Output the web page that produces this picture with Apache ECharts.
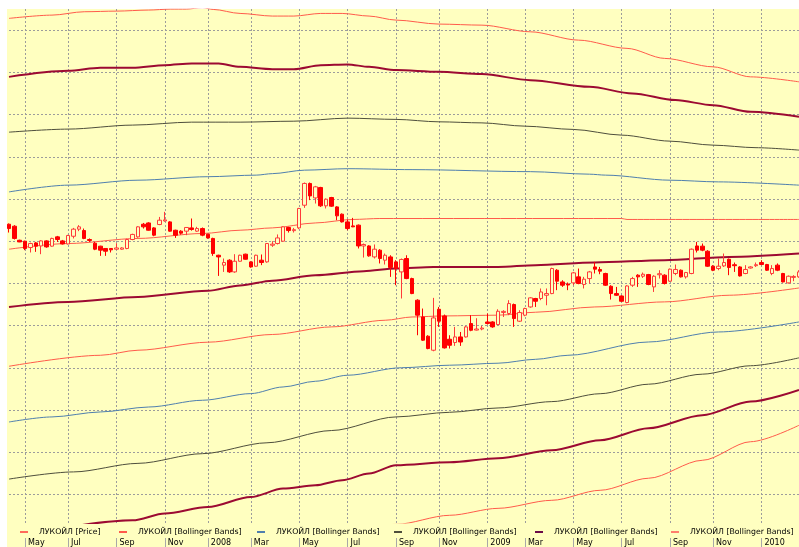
<!DOCTYPE html>
<html>
<head>
<meta charset="utf-8">
<script src="https://cdn.jsdelivr.net/npm/echarts/dist/echarts.min.js"></script>
<style>
  html, body { margin: 0; padding: 0; background: #ffffff; }
  #wrap { position: relative; width: 799px; height: 547px; overflow: hidden; }
  #panel { position: absolute; left: 7px; top: 9px; width: 792px; height: 538px; background: #ffffc0; }
  #chart { position: absolute; left: 0; top: 0; width: 799px; height: 547px; }
</style>
</head>
<body>
<div id="wrap"><div id="panel"></div><div id="chart"></div></div>
<script>
// Weekly bars (week dated by its Sunday), holiday weeks without trading are absent
const weeks = [
  '2007-04-15','2007-04-22','2007-04-29','2007-05-06','2007-05-13','2007-05-20','2007-05-27',
  '2007-06-03','2007-06-10','2007-06-17','2007-06-24','2007-07-01','2007-07-08','2007-07-15',
  '2007-07-22','2007-07-29','2007-08-05','2007-08-12','2007-08-19','2007-08-26','2007-09-02',
  '2007-09-09','2007-09-16','2007-09-23','2007-09-30','2007-10-07','2007-10-14','2007-10-21',
  '2007-10-28','2007-11-04','2007-11-11','2007-11-18','2007-11-25','2007-12-02','2007-12-09',
  '2007-12-16','2007-12-23','2008-01-06','2008-01-13','2008-01-20','2008-01-27','2008-02-03',
  '2008-02-10','2008-02-17','2008-02-24','2008-03-02','2008-03-09','2008-03-16','2008-03-23',
  '2008-03-30','2008-04-06','2008-04-13','2008-04-20','2008-04-27','2008-05-04','2008-05-11',
  '2008-05-18','2008-05-25','2008-06-01','2008-06-08','2008-06-15','2008-06-22','2008-06-29',
  '2008-07-06','2008-07-13','2008-07-20','2008-07-27','2008-08-03','2008-08-10','2008-08-17',
  '2008-08-24','2008-08-31','2008-09-07','2008-09-14','2008-09-21','2008-09-28','2008-10-05',
  '2008-10-12','2008-10-19','2008-10-26','2008-11-02','2008-11-09','2008-11-16','2008-11-23',
  '2008-11-30','2008-12-07','2008-12-14','2008-12-21','2008-12-28','2009-01-11','2009-01-18',
  '2009-01-25','2009-02-01','2009-02-08','2009-02-15','2009-02-22','2009-03-01','2009-03-08',
  '2009-03-15','2009-03-22','2009-03-29','2009-04-05','2009-04-12','2009-04-19','2009-04-26',
  '2009-05-03','2009-05-10','2009-05-17','2009-05-24','2009-05-31','2009-06-07','2009-06-14',
  '2009-06-21','2009-06-28','2009-07-05','2009-07-12','2009-07-19','2009-07-26','2009-08-02',
  '2009-08-09','2009-08-16','2009-08-23','2009-08-30','2009-09-06','2009-09-13','2009-09-20',
  '2009-09-27','2009-10-04','2009-10-11','2009-10-18','2009-10-25','2009-11-01','2009-11-08',
  '2009-11-15','2009-11-22','2009-11-29','2009-12-06','2009-12-13','2009-12-20','2009-12-27',
  '2010-01-03','2010-01-10','2010-01-17','2010-01-24','2010-01-31','2010-02-07','2010-02-14',
  '2010-02-21'
];

// Weekly price, RUB
const open = [
  2161,2142,2009,2000,1940,1984,1955,2003,1953,2041, 2003,1974,2047,2114,2101,2016,1981,1953,1931,1931,
  1924,1924,1931,2016,2041,2161,2173,2126,2158,2192, 2183,2104,2095,2095,2126,2095,2120,2066,2026,1867,
  1773,1820,1709,1810,1877,1804,1763,1820,1804,1962, 1978,2000,2130,2100,2126,2341,2547,2410,2509,2335,
  2414,2325,2256,2183,2145,2152,1955,1955,1851,1915, 1820,1851,1804,1709,1836,1646,1441,1282,1100,967,
  1355,1292,1071,1040,1093,1093,1220,1158,1168,1235, 1235,1210,1325,1315,1400,1242,1299,1377,1457,1457,
  1488,1504,1725,1614,1594,1605,1662,1590,1646,1756, 1732,1694,1573,1504,1481,1419,1583,1678,1668,1684,
  1567,1682,1678,1621,1694,1725,1662,1694,1955,1953, 1905,1763,1741,1766,1829,1777,1756,1694,1746,1768,
  1798,1779,1694,1773,1694,1605,1657,1662
];
const close = [
  2120,2026,1993,1931,1978,1953,2003,1946,2026,2016, 1974,2054,2114,2136,2026,2007,1924,1915,1905,1918,
  1936,1936,2016,2064,2136,2136,2104,2057,2199,2202, 2095,2057,2076,2130,2111,2120,2057,2031,1883,1851,
  1798,1709,1810,1867,1829,1756,1867,1798,1978,1972, 2031,2136,2101,2109,2310,2547,2429,2515,2335,2398,
  2332,2240,2183,2120,2136,1955,1969,1861,1924,1836, 1867,1751,1741,1827,1646,1504,1299,1062,983,1273,
  1242,989,1014,1093,1045,1188,1156,1168,1177,1220, 1188,1336,1335,1409,1267,1324,1362,1463,1431,1519,
  1504,1741,1621,1583,1585,1700,1599,1640,1709,1735, 1716,1583,1504,1488,1431,1576,1646,1662,1687,1590,
  1668,1692,1599,1735,1732,1662,1703,1924,1915,1915, 1763,1725,1763,1798,1751,1768,1671,1732,1756,1777,
  1779,1725,1741,1725,1614,1668,1666,1709
];
const low = [
  2082,2016,1991,1915,1893,1899,1877,1938,1948,1993, 1969,1969,2026,2095,2019,1993,1915,1861,1861,1893,
  1919,1919,1924,2009,2033,2120,2100,2047,2152,2185, 2090,2031,2062,2057,2100,2088,2047,2024,1861,1671,
  1709,1700,1701,1806,1825,1749,1758,1773,1796,1946, 1969,1995,2082,2082,2114,2316,2389,2357,2325,2310,
  2325,2199,2177,2104,2133,1931,1845,1853,1836,1789, 1779,1662,1583,1457,1640,1498,1109,1055,976,957,
  1188,983,983,1008,1008,1087,1147,1154,1156,1210, 1180,1204,1282,1299,1188,1235,1289,1370,1377,1441,
  1393,1498,1536,1567,1536,1583,1592,1552,1599,1694, 1687,1576,1447,1481,1425,1412,1567,1567,1652,1583,
  1519,1646,1590,1614,1678,1656,1646,1687,1893,1905, 1756,1716,1725,1756,1678,1709,1665,1687,1741,1756,
  1773,1718,1678,1716,1609,1599,1621,1654
];
const high = [
  2168,2152,2014,2005,1986,1993,2009,2009,2033,2050, 2012,2060,2126,2152,2120,2026,1993,1957,1934,1934,
  1981,1943,2024,2071,2142,2173,2180,2133,2230,2278, 2190,2109,2104,2133,2215,2136,2130,2071,2033,1872,
  1836,1829,1877,1872,1882,1810,1872,1874,1981,2000, 2064,2142,2136,2126,2316,2556,2556,2524,2515,2405,
  2420,2332,2263,2206,2221,2158,1978,1962,1969,1924, 1883,1867,1820,1836,1867,1654,1450,1362,1109,1463,
  1377,1305,1109,1188,1140,1197,1299,1270,1197,1315, 1242,1355,1346,1441,1409,1346,1370,1469,1463,1552,
  1552,1749,1735,1630,1609,1709,1741,1662,1718,1804, 1756,1701,1583,1567,1488,1583,1662,1687,1703,1690,
  1678,1725,1687,1741,1779,1732,1709,1931,1993,1978, 1915,1773,1836,1883,1836,1798,1763,1773,1763,1798,
  1820,1785,1773,1789,1700,1675,1678,1725
];

// Band lines: [week index, RUB]
const upper5 = [[0,4111],[8,4142],[14,4174],[20,4180],[26,4190],[30,4199],[33,4199],[36,4213],[38,4196],
  [43,4158],[49,4133],[53,4133],[58,4158],[62,4158],[67,4133],[72,4095],[80,4057],[88,4047],[97,3984],
  [106,3905],[115,3827],[122,3732],[131,3652],[138,3557],[147,3510]];
const upper4 = [[0,3557],[11,3614],[17,3643],[23,3643],[29,3668],[34,3684],[39,3684],[43,3652],[49,3630],
  [53,3630],[58,3668],[63,3675],[67,3652],[72,3621],[80,3605],[88,3583],[97,3526],[108,3463],[116,3400],
  [124,3337],[131,3289],[138,3226],[147,3178]];
const upper3 = [[0,3033],[11,3062],[23,3100],[34,3128],[43,3128],[53,3137],[63,3166],[72,3154],[80,3131],
  [88,3121],[96,3090],[105,3059],[114,3005],[123,2948],[131,2910],[139,2886],[147,2863]];
const upper2 = [[0,2467],[11,2531],[24,2578],[37,2611],[46,2626],[49,2640],[55,2673],[63,2687],[75,2678],
  [97,2659],[108,2635],[111,2626],[123,2578],[132,2562],[147,2531]];
const upper1 = [[0,1924],[11,1978],[24,2026],[36,2073],[43,2104],[49,2126],[57,2173],[64,2206],[69,2215],
  [114,2215],[115,2206],[147,2206]];
const middle = [[0,1377],[11,1425],[24,1472],[37,1531],[43,1580],[49,1626],[57,1678],[66,1716],[72,1741],
  [79,1756],[91,1756],[98,1773],[109,1798],[122,1820],[134,1851],[147,1883]];
const lower1 = [[0,815],[17,919],[24,967],[37,1043],[49,1116],[60,1188],[70,1251],[75,1282],[81,1292],
  [91,1299],[98,1327],[109,1377],[122,1425],[134,1488],[147,1557]];
const lower2 = [[0,287],[8,335],[17,382],[26,429],[36,493],[45,556],[51,619],[57,673],[63,730],[73,801],
  [82,825],[91,844],[98,881],[104,919],[119,1045],[132,1140],[147,1235]];
const lower3 = [[0,-254],[12,-186],[24,-105],[36,-13],[48,90],[60,206],[72,335],[82,379],[91,420],
  [101,480],[110,555],[119,645],[129,740],[138,820],[147,895]];
const lower4 = [[0,-806],[23,-645],[29,-581],[37,-519],[45,-424],[51,-344],[57,-313],[62,-265],[67,-202],
  [72,-123],[82,-95],[91,-57],[101,19],[110,114],[119,227],[129,351],[138,480],[147,590]];
const lower5 = [[0,-1356],[36,-1024],[72,-683],[82,-597],[91,-531],[101,-455],[110,-360],[119,-246],
  [129,-76],[138,100],[147,256]];

// Horizontal reference levels, RUB
const levels = [-400, 0, 400, 800, 1200, 1600, 2000, 2400, 2800, 3200, 3600, 4000];
const monthNames = ['Jan','Feb','Mar','Apr','May','Jun','Jul','Aug','Sep','Oct','Nov','Dec'];

const PRICE = 'ЛУКОЙЛ [Price]';
const BB = 'ЛУКОЙЛ [Bollinger Bands]';
const FONT = '"DejaVu Sans", Verdana, sans-serif';

const monthOf = s => parseInt(s.slice(5, 7), 10) - 1;
// first bar of every odd calendar month
const isMark = i => i > 0 && monthOf(weeks[i]) !== monthOf(weeks[i - 1]) && monthOf(weeks[i]) % 2 === 0;
const markLabel = s => monthOf(s) === 0 ? s.slice(0, 4) : monthNames[monthOf(s)];

const C = {
  salmon: '#ff5b4b', blue: '#4f7fae', gray: '#4e4e3c', maroon: '#9c0a32',
  candle: '#ff0000', hollowEdge: '#ff3a3a', panel: '#ffffc0', grid: '#9c9c9c'
};

function bandLine(name, pts, color, width) {
  return {
    type: 'line', name, data: pts, symbol: 'none', showSymbol: false, silent: true,
    smooth: 0.3, smoothMonotone: 'x', z: 3,
    lineStyle: { color, width }, itemStyle: { color }
  };
}

const series = [
  {
    type: 'candlestick', name: PRICE, z: 5, clip: false, barWidth: 4,
    data: weeks.map((_, i) => [open[i], close[i], low[i], high[i]]),
    itemStyle: { color: C.panel, color0: C.candle, borderColor: C.hollowEdge, borderColor0: C.candle, borderWidth: 1 },
    markLine: {
      silent: true, symbol: 'none', z: 1, animation: false,
      label: { show: false },
      lineStyle: { color: C.grid, type: [2, 2], width: 1 },
      data: levels.map(v => ({ yAxis: v }))
    }
  },
  bandLine(BB + ' #5', upper5, C.salmon, 1),
  bandLine(BB + ' #4', upper4, C.maroon, 2),
  bandLine(BB + ' #3', upper3, C.gray, 1),
  bandLine(BB + ' #2', upper2, C.blue, 1),
  bandLine(BB + ' #1', upper1, C.salmon, 1),
  bandLine(BB + ' #4', middle, C.maroon, 2),
  bandLine(BB + ' #1', lower1, C.salmon, 1),
  bandLine(BB + ' #2', lower2, C.blue, 1),
  bandLine(BB + ' #3', lower3, C.gray, 1),
  bandLine(BB + ' #4', lower4, C.maroon, 2),
  bandLine(BB + ' #5', lower5, C.salmon, 1)
];

const legendItems = [
  { name: PRICE, color: '#ff6a5a', left: 20 },
  { name: BB + ' #1', color: C.salmon, left: 119 },
  { name: BB + ' #2', color: C.blue, left: 257 },
  { name: BB + ' #3', color: C.gray, left: 394 },
  { name: BB + ' #4', color: '#6a0a48', left: 535 },
  { name: BB + ' #5', color: '#ff7f6e', left: 671 }
];

const legend = legendItems.map(it => ({
  data: [{ name: it.name, icon: 'rect', itemStyle: { color: it.color, borderWidth: 0 } }],
  left: it.left, top: 528, padding: 0, orient: 'horizontal',
  icon: 'rect', itemWidth: 8, itemHeight: 2, selectedMode: false,
  formatter: n => n.replace(/ #\d$/, ''),
  textStyle: { fontFamily: FONT, fontSize: 7.8, color: '#000', padding: [0, 0, 0, 6] }
}));

const chart = echarts.init(document.getElementById('chart'), null, { renderer: 'canvas' });
chart.setOption({
  animation: false,
  backgroundColor: 'transparent',
  grid: { left: 9, right: 0, top: 9, bottom: 24, outerBoundsMode: 'none', containLabel: false },
  legend,
  xAxis: [
    {
      type: 'category', data: weeks, boundaryGap: false,
      axisLine: { show: false }, axisTick: { show: false }, axisLabel: { show: false },
      splitLine: { show: true, interval: i => isMark(i), lineStyle: { color: C.grid, type: [2, 2], width: 1 } }
    },
    {
      type: 'category', data: weeks, boundaryGap: false, position: 'bottom', offset: 15,
      axisLine: { show: false },
      axisTick: { show: true, interval: i => isMark(i), length: 10, lineStyle: { color: '#a8a8a8', width: 1 } },
      axisLabel: {
        show: true, interval: i => isMark(i), formatter: markLabel,
        align: 'left', padding: [0, 0, 0, 3], margin: 1,
        fontFamily: FONT, fontSize: 8, color: '#000'
      },
      splitLine: { show: false }
    }
  ],
  yAxis: { type: 'value', min: -670, max: 4200, show: false },
  series
});
</script>
</body>
</html>
